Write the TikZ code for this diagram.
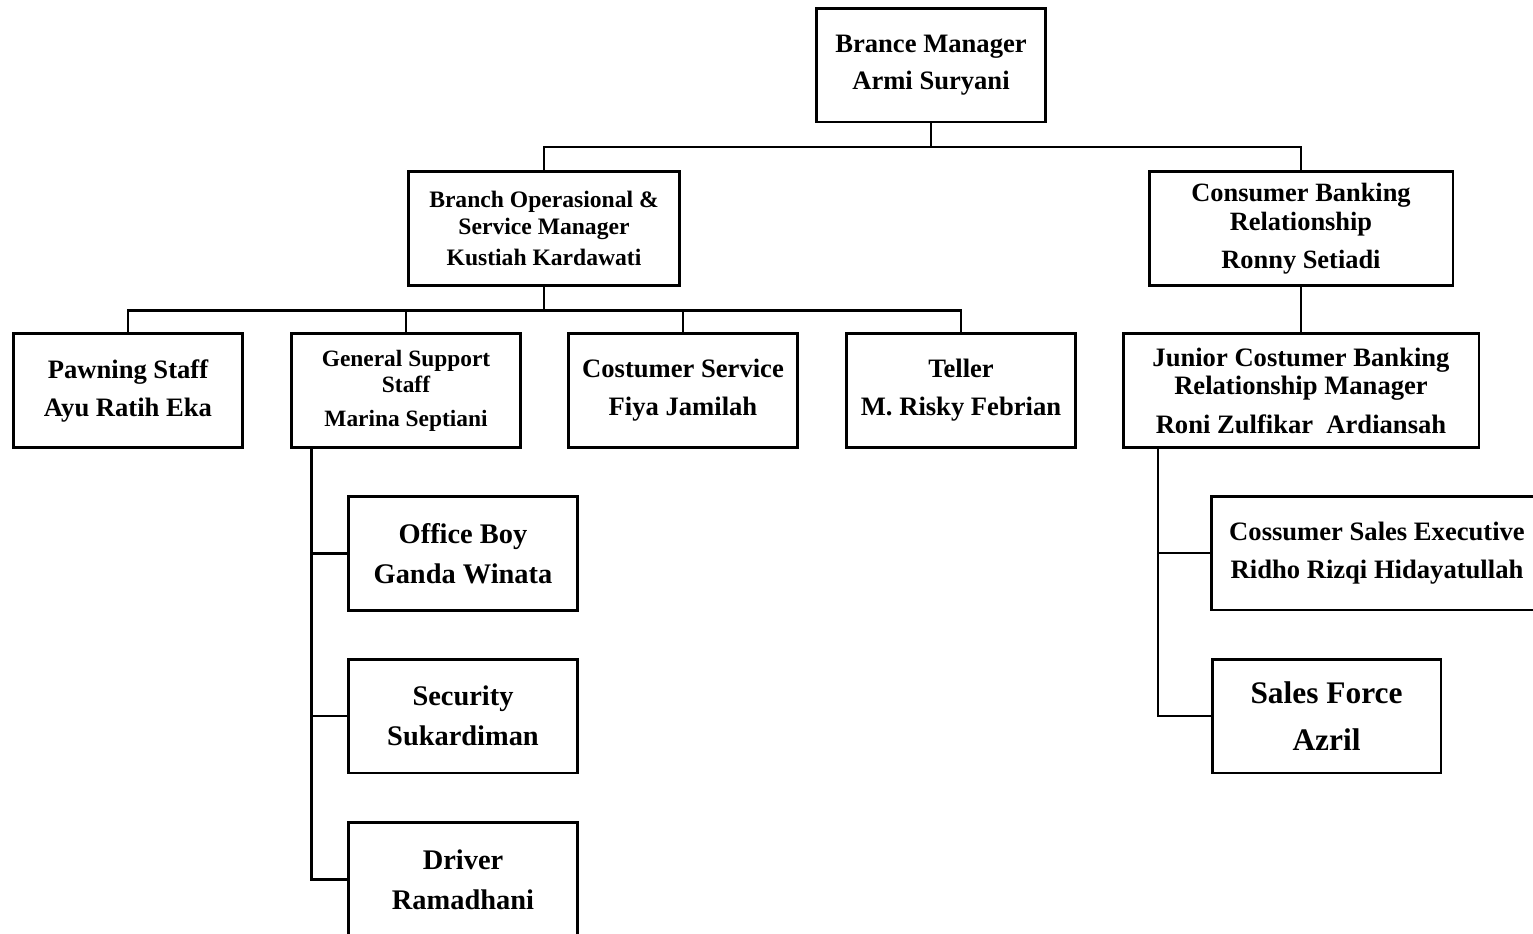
\documentclass[tikz,border=0pt]{standalone}
\usepackage{fontspec}
\setmainfont{Liberation Serif}
\usetikzlibrary{positioning}

\begin{document}
\begin{tikzpicture}[x=0.5pt,y=-0.5pt,
  box/.style={draw,line width=1.3pt,minimum width=114.3pt,minimum height=56.8pt,align=center,inner sep=0pt},
  fmain/.style={font=\fontsize{13.3}{19}\selectfont\bfseries},
  fsmall/.style={font=\fontsize{11.8}{13.5}\selectfont\bfseries},
  fbig/.style={font=\fontsize{14.2}{20}\selectfont\bfseries},
  link/.style={line width=1.3pt}]
 \useasboundingbox (0,0) rectangle (1533,933);
 % top level
 \node[box,font=\fontsize{13.3}{18.5}\selectfont\bfseries] (bm) at (931,65) {Brance Manager\\Armi Suryani};
 \node[box,fsmall,minimum width=135.3pt] (bo) at (544,228.5) {Branch Operasional \&\\Service Manager\\[2pt]Kustiah Kardawati};
 \node[box,font=\fontsize{13.2}{14.5}\selectfont\bfseries,minimum width=151.8pt] (cb) at (1301,228.5) {Consumer Banking\\Relationship\\[4.5pt]Ronny Setiadi};
 % second level
 \node[box,fmain] (ps) at (128,390.5) {Pawning Staff\\Ayu Ratih Eka};
 \node[box,font=\fontsize{11.7}{13}\selectfont\bfseries] (gs) at (406,390.5) {General Support\\Staff\\[4pt]Marina Septiani};
 \node[box,fmain] (cs) at (683,390.5) {Costumer Service\\Fiya Jamilah};
 \node[box,fmain] (te) at (961,390.5) {Teller\\M. Risky Febrian};
 \node[box,font=\fontsize{13.3}{14}\selectfont\bfseries,minimum width=177.8pt] (jr) at (1301,390.5) {Junior Costumer Banking\\Relationship Manager\\[5.5pt]Roni Zulfikar\ \ Ardiansah};
 % staff
 \node[box,fbig] (ob) at (463,553.5) {Office Boy\\Ganda Winata};
 \node[box,fbig] (se) at (463,716) {Security\\Sukardiman};
 \node[box,fbig] (dr) at (463,879.5) {Driver\\Ramadhani};
 \node[box,fmain,minimum width=165.3pt] (ce) at (1377,553) {Cossumer Sales Executive\\Ridho Rizqi Hidayatullah};
 \node[box,font=\fontsize{15.7}{23.5}\selectfont\bfseries] (sf) at (1326.5,716) {Sales Force\\Azril};
 % lines
 \draw[link] (bm.south) -- ++(0,24) coordinate (top);
 \draw[link] (bo.north) |- (top) -| (cb.north);
 \draw[link] (bo.south) -- ++(0,24) coordinate (mid);
 \draw[link] (ps.north) |- (mid) -| (te.north);
 \draw[link] (gs.north) -- (gs.north |- mid);
 \draw[link] (cs.north) -- (cs.north |- mid);
 \draw[link] (cb.south) -- (jr.north);
 \coordinate (gsl) at ([xshift=10.5pt]gs.south west);
 \draw[link] (gsl) |- (dr.west);
 \draw[link] (gsl |- ob.west) -- (ob.west);
 \draw[link] (gsl |- se.west) -- (se.west);
 \coordinate (jrl) at ([xshift=18pt]jr.south west);
 \draw[link] (jrl) |- (sf.west);
 \draw[link] (jrl |- ce.west) -- (ce.west);
\end{tikzpicture}
\end{document}
